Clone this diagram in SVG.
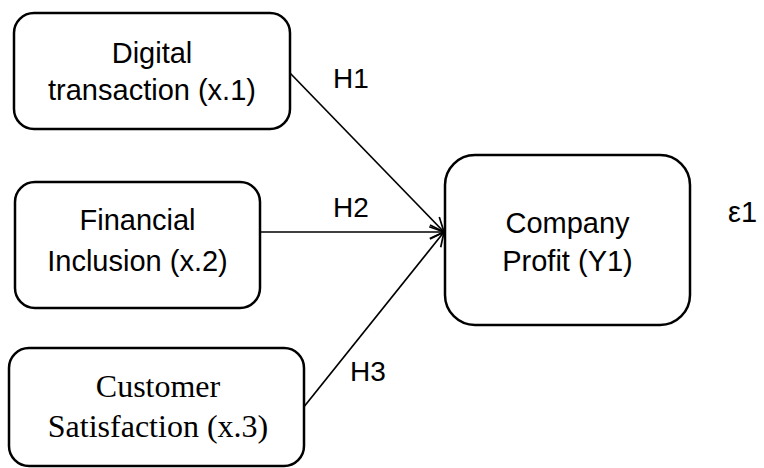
<svg xmlns="http://www.w3.org/2000/svg" width="764" height="468" viewBox="0 0 764 468">
  <defs>
    <style>
      .box { fill: #ffffff; stroke: #000000; stroke-width: 2.5; }
      .lbl { font-family: "Liberation Sans", Arial, sans-serif; font-size: 29px; fill: #000000; }
      .tag { font-family: "Liberation Sans", Arial, sans-serif; font-size: 28px; fill: #000000; }
      .ser { font-family: "Liberation Serif", "Times New Roman", serif; font-size: 32px; fill: #000000; }
      .edge { stroke: #000000; stroke-width: 1.7; fill: none; marker-end: url(#arrow); }
    </style>
    <marker id="arrow" viewBox="0 0 16 16" refX="15" refY="8" markerWidth="16" markerHeight="16" markerUnits="userSpaceOnUse" orient="auto">
      <path d="M1,1 L15,8 L1,15" fill="none" stroke="#000000" stroke-width="1.7"/>
    </marker>
  </defs>

  <rect width="764" height="468" fill="#ffffff"/>

  <g id="connectors">
    <line class="edge" x1="290" y1="73" x2="444" y2="232"/>
    <line class="edge" x1="260" y1="232" x2="444" y2="232"/>
    <line class="edge" x1="303" y1="408" x2="444" y2="232"/>
    <text class="tag" x="333" y="88">H1</text>
    <text class="tag" x="333" y="217">H2</text>
    <text class="tag" x="350" y="381">H3</text>
  </g>

  <g id="digital-transaction">
    <rect class="box" x="14" y="13" width="276" height="116" rx="20"/>
    <text class="lbl" text-anchor="middle" x="152" y="63">Digital</text>
    <text class="lbl" text-anchor="middle" x="152" y="100">transaction (x.1)</text>
  </g>

  <g id="financial-inclusion">
    <rect class="box" x="15" y="182" width="245" height="126" rx="20"/>
    <text class="lbl" text-anchor="middle" x="137.5" y="230">Financial</text>
    <text class="lbl" text-anchor="middle" x="137.5" y="271">Inclusion (x.2)</text>
  </g>

  <g id="customer-satisfaction">
    <rect class="box" x="9" y="348" width="295" height="118" rx="20"/>
    <text class="ser" text-anchor="middle" x="158" y="397">Customer</text>
    <text class="ser" text-anchor="middle" x="158" y="437">Satisfaction (x.3)</text>
  </g>

  <g id="company-profit">
    <rect class="box" x="445" y="155" width="245" height="170" rx="30"/>
    <text class="lbl" text-anchor="middle" x="567.5" y="233">Company</text>
    <text class="lbl" text-anchor="middle" x="567.5" y="271">Profit (Y1)</text>
  </g>

  <g id="error-term">
    <text class="lbl" x="728" y="222" font-size="32">ε1</text>
  </g>
</svg>
